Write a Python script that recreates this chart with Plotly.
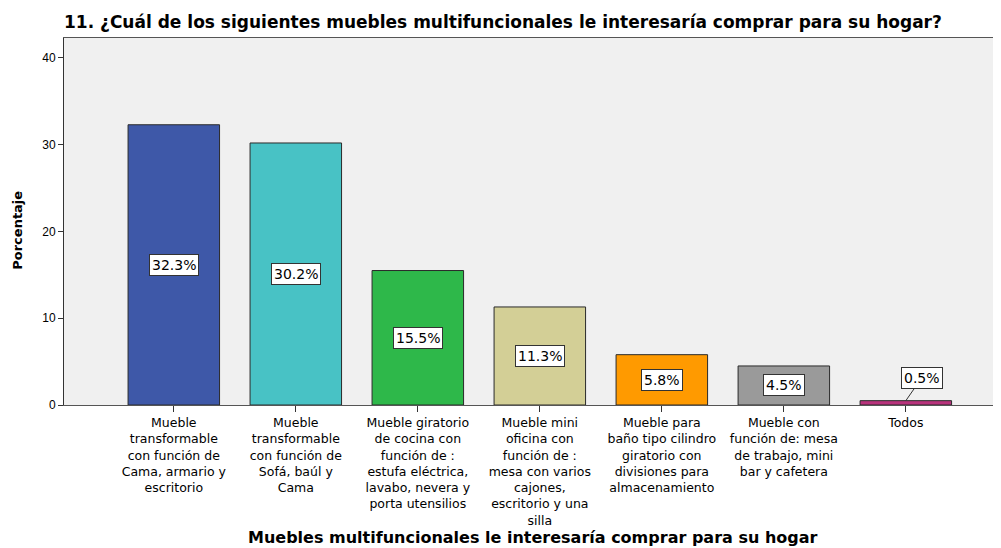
import plotly.graph_objects as go

categorias = [
    'Mueble<br>transformable<br>con función de<br>Cama, armario y<br>escritorio',
    'Mueble<br>transformable<br>con función de<br>Sofá, baúl y<br>Cama',
    'Mueble giratorio<br>de cocina con<br>función de :<br>estufa eléctrica,<br>lavabo, nevera y<br>porta utensilios',
    'Mueble mini<br>oficina con<br>función de :<br>mesa con varios<br>cajones,<br>escritorio y una<br>silla',
    'Mueble para<br>baño tipo cilindro<br>giratorio con<br>divisiones para<br>almacenamiento',
    'Mueble con<br>función de: mesa<br>de trabajo, mini<br>bar y cafetera',
    'Todos',
]
porcentajes = [32.3, 30.2, 15.5, 11.3, 5.8, 4.5, 0.5]
etiquetas = ['32.3%', '30.2%', '15.5%', '11.3%', '5.8%', '4.5%', '0.5%']
colores = ['#3E58A8', '#48C2C5', '#2EB84A', '#D3CF96', '#FF9A00', '#9A9A9A', '#B8337C']

x = list(range(len(categorias)))
fuente = 'DejaVu Sans, sans-serif'

fig = go.Figure()
fig.add_trace(go.Bar(
    x=x, y=porcentajes, width=0.75,
    marker=dict(color=colores, line=dict(color='#2a2a2a', width=1)),
    hoverinfo='skip',
))

for i, (v, t) in enumerate(zip(porcentajes, etiquetas)):
    if v > 2:
        fig.add_annotation(x=i, y=v / 2, text=t, showarrow=False,
                           bgcolor='white', bordercolor='#333', borderwidth=1,
                           borderpad=2, font=dict(size=14, color='black', family=fuente))
    else:
        fig.add_annotation(x=i, y=v, text=t, showarrow=True, arrowhead=0,
                           arrowwidth=1, arrowcolor='#333', ax=16, ay=-23,
                           bgcolor='white', bordercolor='#333', borderwidth=1,
                           borderpad=2, font=dict(size=14, color='black', family=fuente))

fig.add_annotation(xref='paper', yref='paper', x=0.5, y=-0.36,
                   xanchor='center', yanchor='middle',
                   text='<b>Muebles multifuncionales le interesaría comprar para su hogar</b>',
                   showarrow=False, font=dict(size=16, color='black', family=fuente))
fig.add_annotation(xref='paper', yref='paper', x=-0.049, y=0.475, textangle=-90,
                   xanchor='center', yanchor='middle',
                   text='<b>Porcentaje</b>', showarrow=False,
                   font=dict(size=13, color='black', family=fuente))

# la página tiene 8 px de margen, por eso todo va desplazado
fig.update_layout(
    width=1001, height=548,
    margin=dict(l=56, r=8, t=30, b=151),
    paper_bgcolor='white', plot_bgcolor='#F0F0F0',
    showlegend=False,
    font=dict(family=fuente, color='black'),
    title=dict(text='<b>11. ¿Cuál de los siguientes muebles multifuncionales le interesaría comprar para su hogar?</b>',
               x=56 / 1001, xanchor='left', xref='container',
               y=1 - 14 / 548, yanchor='middle', yref='container',
               font=dict(size=17, color='black', family=fuente)),
)
fig.update_xaxes(
    range=[-0.9, 6.78], tickmode='array', tickvals=x, ticktext=categorias,
    ticks='outside', ticklen=6, tickcolor='#333', tickangle=0,
    showline=True, linecolor='#555', linewidth=1, mirror=True,
    showgrid=False, zeroline=False, automargin=False,
    tickfont=dict(size=12.5, color='black', family=fuente),
)
fig.update_yaxes(
    range=[0, 42.3], tickvals=[0, 10, 20, 30, 40],
    ticks='outside', ticklen=5, tickcolor='#333',
    showline=True, linecolor='#333', linewidth=1, mirror=True,
    showgrid=False, zeroline=False, automargin=False,
    tickfont=dict(size=12, color='black', family='Liberation Sans, Arial, sans-serif'),
)

fig.write_html("out.html")
